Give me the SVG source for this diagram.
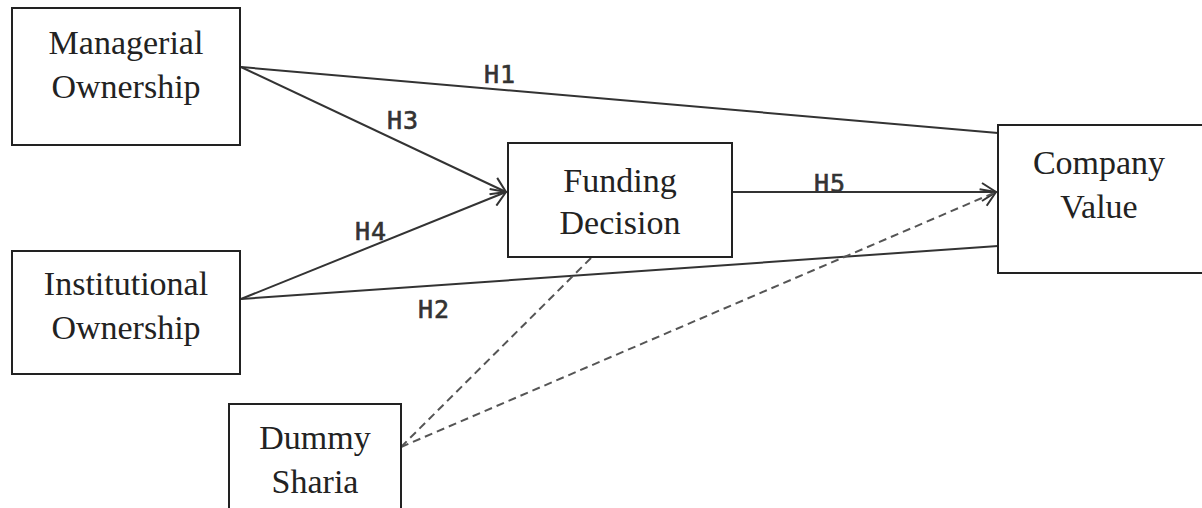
<svg xmlns="http://www.w3.org/2000/svg" width="1202" height="508" viewBox="0 0 1202 508">
<defs>
<style>
.box{fill:#fff;stroke:#222;stroke-width:2}
.t{font-family:"Liberation Serif","Times New Roman",serif;font-size:34px;fill:#222;text-anchor:middle}
.h{font-family:"DejaVu Sans Mono",monospace;font-size:25px;fill:#333;stroke:#333;stroke-width:0.6;letter-spacing:1px}
.ln{stroke:#333;stroke-width:2;fill:none}
.dl{stroke:#555;stroke-width:2;fill:none;stroke-dasharray:8 5}
</style>
<marker id="arr" markerWidth="18" markerHeight="20" refX="16" refY="10" orient="auto" markerUnits="userSpaceOnUse">
<path d="M2,1 L16,10 L2,19" fill="none" stroke="#333" stroke-width="2"/>
</marker>
</defs>
<rect width="1202" height="508" fill="#fff"/>
<g id="connectors">
<line class="ln" x1="241" y1="67" x2="998" y2="133"/>
<line class="ln" x1="241" y1="67" x2="506" y2="192" marker-end="url(#arr)"/>
<line class="ln" x1="241" y1="299" x2="506" y2="192" marker-end="url(#arr)"/>
<line class="ln" x1="241" y1="299" x2="998" y2="246"/>
<line class="ln" x1="732" y1="192" x2="996" y2="192" marker-end="url(#arr)"/>
<line class="dl" x1="401" y1="447" x2="592" y2="257"/>
<line class="dl" x1="401" y1="447" x2="996" y2="192" marker-end="url(#arr)"/>
<text class="h" x="484" y="83">H1</text>
<text class="h" x="387" y="129">H3</text>
<text class="h" x="355" y="240">H4</text>
<text class="h" x="418" y="318">H2</text>
<text class="h" x="814" y="192">H5</text>
</g>
<g id="managerial">
<rect class="box" x="12" y="8" width="228" height="137"/>
<text class="t" x="126" y="54">Managerial</text>
<text class="t" x="126" y="98">Ownership</text>
</g>
<g id="institutional">
<rect class="box" x="12" y="251" width="228" height="123"/>
<text class="t" x="126" y="295">Institutional</text>
<text class="t" x="126" y="339">Ownership</text>
</g>
<g id="funding">
<rect class="box" x="508" y="143" width="224" height="114"/>
<text class="t" x="620" y="192">Funding</text>
<text class="t" x="620" y="234">Decision</text>
</g>
<g id="company">
<rect class="box" x="998" y="125" width="210" height="148"/>
<text class="t" x="1099" y="174">Company</text>
<text class="t" x="1099" y="218">Value</text>
</g>
<g id="dummy">
<rect class="box" x="229" y="404" width="172" height="110"/>
<text class="t" x="315" y="449">Dummy</text>
<text class="t" x="315" y="493">Sharia</text>
</g>
</svg>
